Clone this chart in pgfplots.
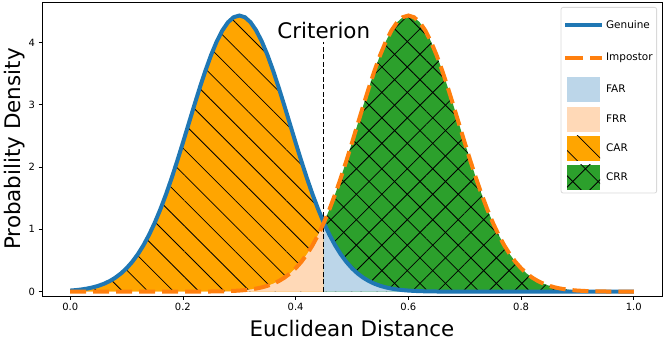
\documentclass[border=0pt]{standalone}
\usepackage{fontspec}
\setmainfont{DejaVu Sans}
\usepackage{pgfplots}
\usepackage{pgfplotstable}
\pgfplotsset{compat=1.18}
\usepgfplotslibrary{fillbetween}
\usetikzlibrary{patterns.meta}

\definecolor{tabblue}{HTML}{1F77B4}
\definecolor{taborange}{HTML}{FF7F0E}
\definecolor{carorange}{HTML}{FFA500}
\definecolor{crrgreen}{HTML}{2CA02C}
\definecolor{farblue}{HTML}{BCD6E9}
\definecolor{frrpeach}{HTML}{FFD9B7}

% x, genuine density, impostor density
\pgfplotstableread{
x gen imp
0.00 0.0171 0
0.01 0.0247 0
0.02 0.0351 0
0.03 0.0492 0
0.04 0.0683 0
0.05 0.0936 0
0.06 0.1266 0
0.07 0.1692 0
0.08 0.2234 0
0.09 0.2914 0
0.10 0.3753 0
0.11 0.4775 0
0.12 0.5999 0
0.13 0.7446 0
0.14 0.9128 0
0.15 1.1053 0
0.16 1.3220 0
0.17 1.5617 0
0.18 1.8223 0.0001
0.19 2.1003 0.0001
0.20 2.3910 0.0002
0.21 2.6886 0.0004
0.22 2.9860 0.0006
0.23 3.2757 0.0009
0.24 3.5494 0.0015
0.25 3.7988 0.0023
0.26 4.0158 0.0035
0.27 4.1932 0.0053
0.28 4.3246 0.0080
0.29 4.4054 0.0118
0.30 4.4327 0.0171
0.31 4.4054 0.0247
0.32 4.3246 0.0351
0.33 4.1932 0.0492
0.34 4.0158 0.0683
0.35 3.7988 0.0936
0.36 3.5494 0.1266
0.37 3.2757 0.1692
0.38 2.9860 0.2234
0.39 2.6886 0.2914
0.40 2.3910 0.3753
0.41 2.1003 0.4775
0.42 1.8223 0.5999
0.43 1.5617 0.7446
0.44 1.3220 0.9128
0.45 1.1053 1.1053
0.46 0.9128 1.3220
0.47 0.7446 1.5617
0.48 0.5999 1.8223
0.49 0.4775 2.1003
0.50 0.3753 2.3910
0.51 0.2914 2.6886
0.52 0.2234 2.9860
0.53 0.1692 3.2757
0.54 0.1266 3.5494
0.55 0.0936 3.7988
0.56 0.0683 4.0158
0.57 0.0492 4.1932
0.58 0.0351 4.3246
0.59 0.0247 4.4054
0.60 0.0171 4.4327
0.61 0.0118 4.4054
0.62 0.0080 4.3246
0.63 0.0053 4.1932
0.64 0.0035 4.0158
0.65 0.0023 3.7988
0.66 0.0015 3.5494
0.67 0.0009 3.2757
0.68 0.0006 2.9860
0.69 0.0004 2.6886
0.70 0.0002 2.3910
0.71 0.0001 2.1003
0.72 0.0001 1.8223
0.73 0 1.5617
0.74 0 1.3220
0.75 0 1.1053
0.76 0 0.9128
0.77 0 0.7446
0.78 0 0.5999
0.79 0 0.4775
0.80 0 0.3753
0.81 0 0.2914
0.82 0 0.2234
0.83 0 0.1692
0.84 0 0.1266
0.85 0 0.0936
0.86 0 0.0683
0.87 0 0.0492
0.88 0 0.0351
0.89 0 0.0247
0.90 0 0.0171
0.91 0 0.0118
0.92 0 0.0080
0.93 0 0.0053
0.94 0 0.0035
0.95 0 0.0023
0.96 0 0.0015
0.97 0 0.0009
0.98 0 0.0006
0.99 0 0.0004
1.00 0 0.0002
}\dens

\pgfplotsset{
  lineleg/.style={legend image code/.code={
      \path (0bp,-12.5bp) (37bp,12.5bp);
      \draw[##1,sharp corners] (0bp,0bp) -- (37bp,0bp);}},
  patchleg/.style={legend image code/.code={
      \path (0bp,-12.5bp) (37bp,12.5bp);
      \path[##1,draw=none,sharp corners] (2bp,-12.5bp) rectangle (35bp,12.5bp);}},
  carstyle/.style={fill=carorange, draw=none,
      postaction={pattern={Lines[angle=-45,distance=18bp,line width=0.8bp]}, pattern color=black}},
  crrstyle/.style={fill=crrgreen, draw=none,
      postaction={pattern={Lines[angle=-45,distance=18bp,line width=0.8bp]}, pattern color=black},
      postaction={pattern={Lines[angle=45,distance=18bp,line width=0.8bp]}, pattern color=black}},
}

\begin{document}
\begin{tikzpicture}
\begin{axis}[
  name=ax,
  scale only axis,
  width=620bp, height=294bp,
  xmin=-0.05, xmax=1.05,
  ymin=-0.07, ymax=4.65,
  xtick={0,0.2,0.4,0.6,0.8,1.0},
  ytick={0,1,2,3,4},
  xticklabel style={/pgf/number format/.cd, fixed, fixed zerofill, precision=1},
  tick pos=left,
  tick align=outside,
  major tick length=3.5bp,
  every tick/.style={black, line width=0.8bp},
  axis line style={line width=0.8bp},
  ticklabel style={font=\fontsize{10}{12}\selectfont},
  /pgf/number format/assume math mode=true,
  xlabel={Euclidean Distance},
  ylabel={Probability Density},
  label style={font=\fontsize{21.5}{24}\selectfont},
  xlabel style={yshift=-3bp},
  ylabel style={yshift=-3bp},
  legend style={at={(0.992,0.983)}, anchor=north east,
    draw=black!15, rounded corners=2bp, line width=0.8bp,
    font=\fontsize{10.5}{12}\selectfont,
    row sep=4bp, inner xsep=2bp, inner ysep=3bp},
  legend cell align=left,
]
\addlegendimage{lineleg, color=tabblue, line width=4bp}
\addlegendentry{Genuine}
\addlegendimage{lineleg, color=taborange, line width=4bp, dash pattern=on 18bp off 7bp}
\addlegendentry{Impostor}
\addlegendimage{patchleg, fill=farblue}
\addlegendentry{FAR}
\addlegendimage{patchleg, fill=frrpeach}
\addlegendentry{FRR}
\addlegendimage{patchleg, carstyle}
\addlegendentry{CAR}
\addlegendimage{patchleg, crrstyle}
\addlegendentry{CRR}

\addplot[draw=none, forget plot, name path=gen] table[x=x, y=gen] {\dens};
\addplot[draw=none, forget plot, name path=imp] table[x=x, y=imp] {\dens};
\addplot[draw=none, forget plot, name path=base] coordinates {(0,0) (1,0)};

\addplot[carstyle, forget plot] fill between[of=gen and base, soft clip={domain=0:0.45}];
\addplot[fill=frrpeach, draw=none, forget plot] fill between[of=imp and base, soft clip={domain=0:0.45}];
\addplot[crrstyle, forget plot] fill between[of=imp and base, soft clip={domain=0.45:1}];
\addplot[fill=farblue, draw=none, forget plot] fill between[of=gen and base, soft clip={domain=0.45:1}];

\addplot[black, line width=1.3bp, dash pattern=on 5bp off 2.5bp, forget plot]
  coordinates {(0.45,0) (0.45,4.0)};
\node[anchor=base, font=\fontsize{21.5}{24}\selectfont] at (axis cs:0.45,4.06) {Criterion};

\addplot[tabblue, line width=4bp, forget plot] table[x=x, y=gen] {\dens};
\addplot[taborange, line width=4bp, dash pattern=on 16bp off 7bp, forget plot] table[x=x, y=imp] {\dens};
\end{axis}
\pgfresetboundingbox
\path ([shift={(-42bp,-51bp)}]ax.south west) rectangle ([shift={(2bp,2bp)}]ax.north east);
\end{tikzpicture}
\end{document}
